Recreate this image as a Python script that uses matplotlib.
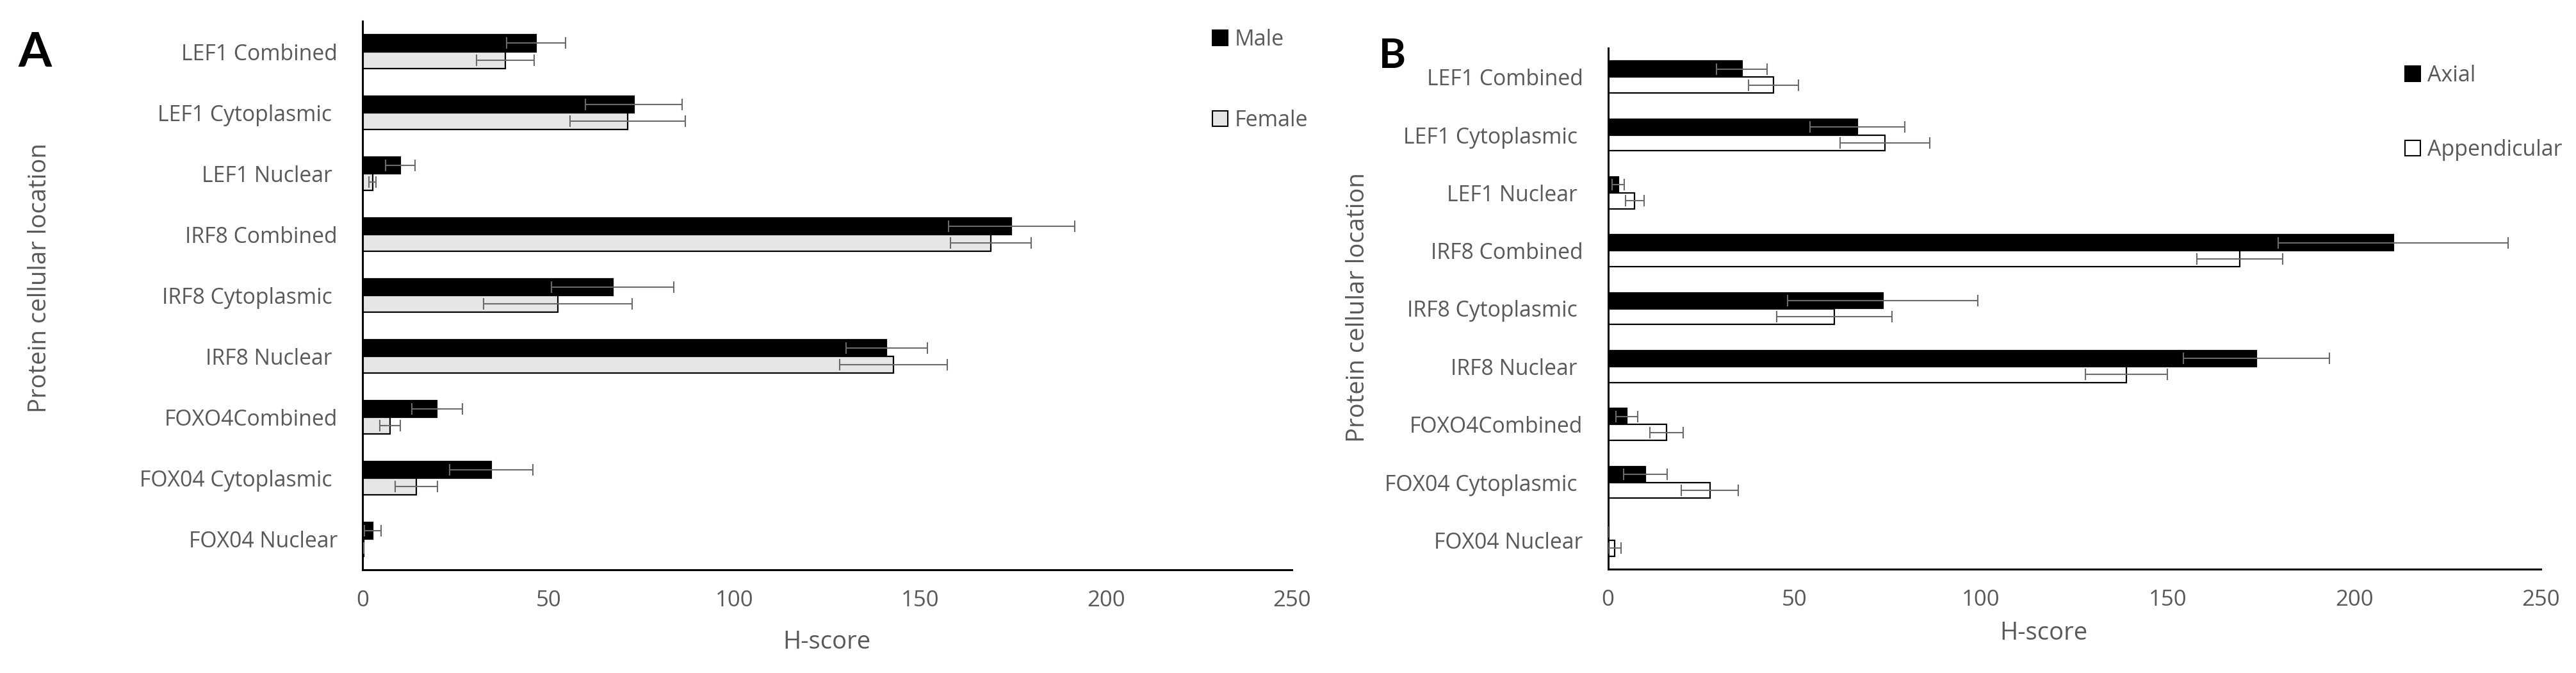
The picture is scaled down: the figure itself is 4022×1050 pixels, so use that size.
import matplotlib
matplotlib.use("Agg")
import matplotlib.pyplot as plt
from matplotlib.patches import Patch
import numpy as np

plt.rcParams['font.family'] = ['Open Sans', 'DejaVu Sans']

categories = ["LEF1 Combined", "LEF1 Cytoplasmic ", "LEF1 Nuclear ", "IRF8 Combined",
              "IRF8 Cytoplasmic ", "IRF8 Nuclear ", "FOXO4Combined", "FOX04 Cytoplasmic ",
              "FOX04 Nuclear"]

# Panel A: sex
male = [46.7, 73.0, 10.2, 174.6, 67.3, 141.0, 20.0, 34.6, 2.8]
male_err = [8.0, 13.0, 4.0, 17.0, 16.4, 11.0, 6.8, 11.2, 2.2]
female = [38.4, 71.3, 2.7, 169.0, 52.5, 142.8, 7.4, 14.5, 0.3]
female_err = [7.8, 15.5, 0.9, 10.8, 20.0, 14.5, 2.8, 5.7, 0.0]

# Panel B: location
axial = [35.9, 66.8, 2.8, 210.5, 73.7, 173.8, 5.1, 10.0, 0.0]
axial_err = [6.8, 12.7, 1.6, 30.8, 25.5, 19.5, 2.9, 5.8, 0.0]
append = [44.4, 74.3, 7.2, 169.3, 60.7, 138.9, 15.7, 27.3, 1.8]
append_err = [6.7, 12.0, 2.5, 11.5, 15.4, 11.0, 4.5, 7.7, 1.8]

xticks = [0, 50, 100, 150, 200, 250]

W, H = 4023, 1050
fig = plt.figure(figsize=(W / 100, H / 100), dpi=100)

GREY = "#595959"
ERR = "#6a6a6a"

def px_rect(l, r, t, b):
    return [l / W, 1 - b / H, (r - l) / W, (b - t) / H]

def panel(ax, s1, e1, s2, e2, c2, names, leg_xy):
    y = np.arange(len(categories))
    h = 0.275
    ax.barh(y - h / 2, s1, height=h, color="black", edgecolor="black", linewidth=1.6, zorder=2)
    ax.barh(y + h / 2, s2, height=h, color=c2, edgecolor="black", linewidth=1.6, zorder=2)
    ax.errorbar(s1, y - h / 2, xerr=e1, fmt="none", ecolor=ERR, elinewidth=1.5, capsize=6.5, capthick=1.5, zorder=3)
    ax.errorbar(s2, y + h / 2, xerr=e2, fmt="none", ecolor=ERR, elinewidth=1.5, capsize=6.5, capthick=1.5, zorder=3)
    ax.set_ylim(len(categories) - 0.5, -0.5)
    ax.set_xlim(0, 250)
    ax.set_xticks(xticks)
    ax.set_yticks(y)
    ax.set_yticklabels(categories)
    for s in ["top", "right"]:
        ax.spines[s].set_visible(False)
    for s in ["left", "bottom"]:
        ax.spines[s].set_linewidth(2.2)
        ax.spines[s].set_color("black")
    ax.tick_params(axis="x", length=0, pad=22, labelsize=25, labelcolor=GREY)
    ax.tick_params(axis="y", length=0, pad=28, labelsize=24.3, labelcolor=GREY)
    handles = [Patch(facecolor="black", edgecolor="black", linewidth=1.5),
               Patch(facecolor=c2, edgecolor="black", linewidth=1.5)]
    ax.legend(handles, names, loc="upper left", bbox_to_anchor=(leg_xy[0] / W, 1 - leg_xy[1] / H),
              bbox_transform=fig.transFigure, frameon=False, fontsize=24.5, labelcolor=GREY,
              handlelength=0.72, handleheight=0.72, handletextpad=0.3, labelspacing=leg_xy[2],
              borderpad=0, borderaxespad=0)

axA = fig.add_axes(px_rect(566, 2017, 33, 889))
panel(axA, male, male_err, female, female_err, "#e6e6e6", ["Male", "Female"], (1893, 45, 2.7))
axB = fig.add_axes(px_rect(2510.5, 3967, 75, 888))
panel(axB, axial, axial_err, append, append_err, "white", ["Axial", "Appendicular"], (3755, 101, 2.4))

fig.text(1291 / W, 1 - 1002 / H, "H-score", ha="center", va="center", fontsize=27.5, color=GREY)
fig.text(3191 / W, 1 - 988 / H, "H-score", ha="center", va="center", fontsize=27.5, color=GREY)
fig.text(62 / W, 1 - 434 / H, "Protein cellular location", ha="center", va="center",
         rotation=90, fontsize=27.5, color=GREY)
fig.text(2120 / W, 1 - 480 / H, "Protein cellular location", ha="center", va="center",
         rotation=90, fontsize=27.5, color=GREY)
fig.text(54 / W, 1 - 83 / H, "A", ha="center", va="center", fontsize=54, fontweight="bold",
         family=["Lato", "DejaVu Sans"], color="black")
fig.text(2174 / W, 1 - 87 / H, "B", ha="center", va="center", fontsize=46, fontweight="bold",
         family=["Lato", "DejaVu Sans"], color="black")

fig.savefig("out.png", dpi=100, facecolor="white")
